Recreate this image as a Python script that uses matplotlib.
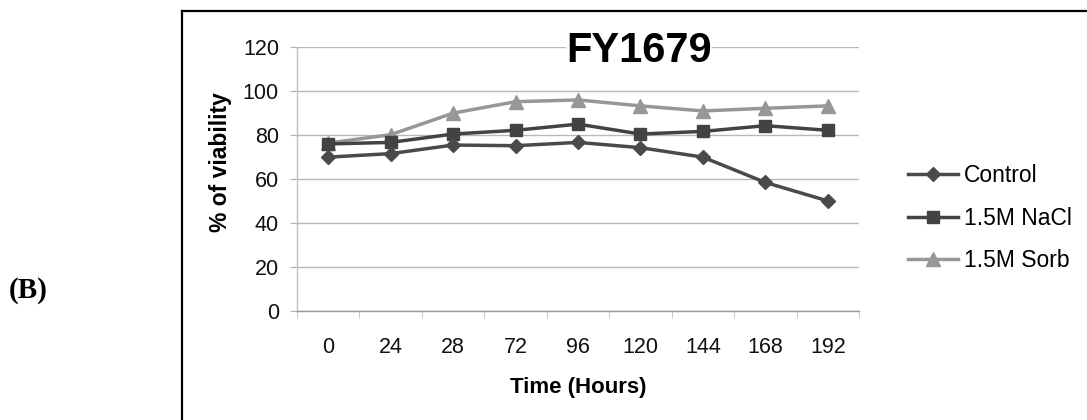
import matplotlib
matplotlib.use("Agg")
import matplotlib.pyplot as plt
from matplotlib.lines import Line2D

# ---- data ----
time_labels = ["0", "24", "28", "72", "96", "120", "144", "168", "192"]
control = [69.8, 71.4, 75.3, 75.0, 76.5, 74.1, 69.8, 58.3, 49.9]
nacl = [75.8, 76.5, 80.3, 82.0, 84.8, 80.3, 81.5, 84.1, 82.0]
sorb = [76.2, 80.0, 89.8, 95.0, 95.8, 93.1, 90.8, 92.0, 93.1]
series_names = ["Control", "1.5M NaCl", "1.5M Sorb"]
y_ticks = [0, 20, 40, 60, 80, 100, 120]

plt.rcParams['font.family'] = ['Liberation Sans', 'DejaVu Sans']

W, H = 1087, 420
fig = plt.figure(figsize=(W / 100, H / 100), dpi=100)
fig.patch.set_facecolor('white')

# axes in pixel geometry
x0, x1 = 297, 859
ytop, ybot = 46.7, 310.7
ax = fig.add_axes([x0 / W, (H - ybot) / H, (x1 - x0) / W, (ybot - ytop) / H])

xs = list(range(len(time_labels)))
ax.plot(xs, control, color='#4a4a4a', lw=2.5, marker='D', ms=6.8, label=series_names[0], zorder=5)
ax.plot(xs, nacl, color='#434343', lw=2.5, marker='s', ms=8.2, label=series_names[1], zorder=4)
ax.plot(xs, sorb, color='#979797', lw=2.5, marker='^', ms=9.5, label=series_names[2], zorder=3)

ax.set_xlim(-0.5, len(time_labels) - 0.5)
ax.set_ylim(0, 120)
ax.set_yticks(y_ticks)
ax.set_xticks(xs)
ax.set_xticklabels(time_labels)
ax.set_xticks([i - 0.5 for i in range(len(time_labels) + 1)], minor=True)

ax.grid(axis='y', color='#b8b8b8', lw=1.0)
ax.set_axisbelow(True)
for s in ['top', 'right']:
    ax.spines[s].set_visible(False)
ax.spines['left'].set_color('#c0c0c0')
ax.spines['bottom'].set_color('#9a9a9a')
ax.spines['left'].set_linewidth(1.0)
ax.spines['bottom'].set_linewidth(1.0)

ax.tick_params(axis='y', which='major', length=5, color='#b0b0b0', labelsize=15.5, pad=8, labelcolor='#111111')
ax.tick_params(axis='x', which='major', length=0, labelsize=15.5, pad=19, labelcolor='#111111')
ax.tick_params(axis='x', which='minor', length=5, color='#c0c0c0')

ax.set_xlabel("Time (Hours)", fontsize=16, fontweight='bold')
ax.xaxis.set_label_coords(0.5, (H - 388 - (H - ybot)) / (ybot - ytop))
ax.xaxis.label.set_va('center')
ax.set_ylabel("% of viability", fontsize=16.5, fontweight='bold')
ax.yaxis.set_label_coords((220 - x0) / (x1 - x0), ((H - 162) - (H - ybot)) / (ybot - ytop))
ax.yaxis.label.set_va('center')

ax.text((639 - x0) / (x1 - x0), ((H - 51) - (H - ybot)) / (ybot - ytop), "FY1679",
        transform=ax.transAxes, ha='center', va='center', fontsize=30, fontweight='bold',
        bbox=dict(facecolor='white', edgecolor='none', pad=0), zorder=6)

leg = ax.legend(loc='upper left', bbox_to_anchor=(908 / W, (H - 164) / H),
                bbox_transform=fig.transFigure, frameon=False, fontsize=16.5,
                handlelength=2.2, handletextpad=0.25, labelspacing=0.86, borderpad=0,
                borderaxespad=0)

# panel label and outer frame
fig.text(28.5 / W, (H - 291) / H, "(B)", fontsize=21, fontweight='bold',
         family=['Liberation Serif', 'DejaVu Serif'], ha='center', va='center')
fig.add_artist(Line2D([182 / W, 182 / W], [0, (H - 11) / H], color='black', lw=1.6,
                      transform=fig.transFigure))
fig.add_artist(Line2D([182 / W, 1.0], [(H - 11) / H, (H - 11) / H], color='black', lw=1.6,
                      transform=fig.transFigure))

fig.savefig("out.png", dpi=100, facecolor='white')
